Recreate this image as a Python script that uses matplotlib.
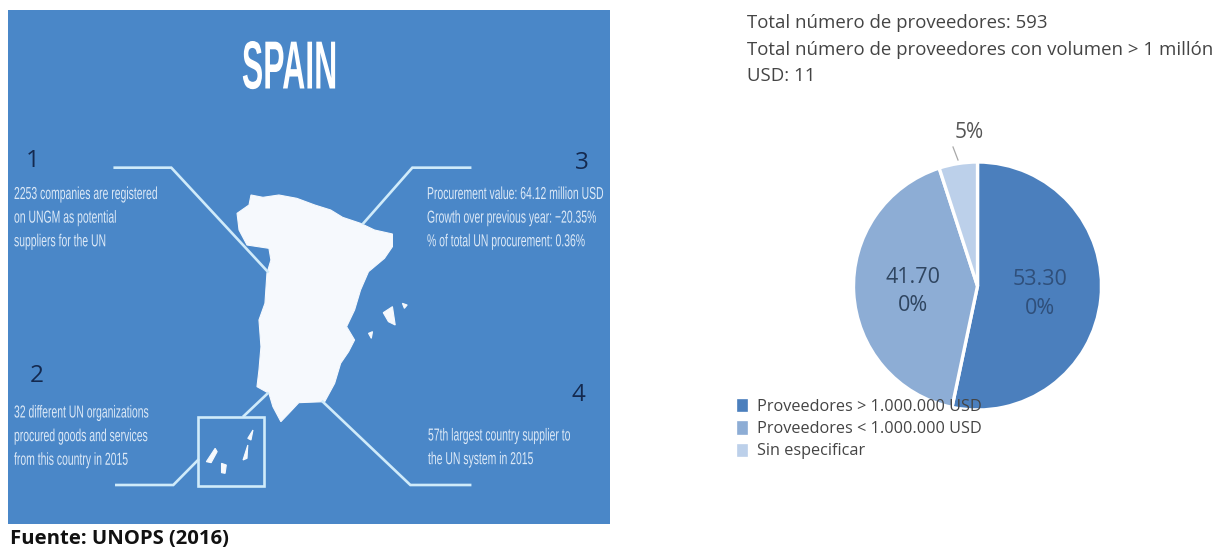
import matplotlib
matplotlib.use("Agg")
import matplotlib.pyplot as plt
from matplotlib.patches import Polygon, Rectangle
from matplotlib.patheffects import AbstractPathEffect
from matplotlib.transforms import Affine2D

# ---- chart data ----
categories = ["Proveedores > 1.000.000 USD", "Proveedores < 1.000.000 USD", "Sin especificar"]
shares = [53.30, 41.70, 5.0]
share_labels = ["53.30\n0%", "41.70\n0%", "5%"]
pie_colors = ["#4b7fbd", "#8dadd5", "#bcd0ea"]
header_lines = ["Total número de proveedores: 593",
                "Total número de proveedores con volumen > 1 millón",
                "USD: 11"]
source = "Fuente: UNOPS (2016)"

# ---- infographic text ----
panel_title = "SPAIN"
panel_blocks = ["2253 companies are registered\non UNGM as potential\nsuppliers for the UN",
                "32 different UN organizations\nprocured goods and services\nfrom this country in 2015",
                "Procurement value: 64.12 million USD\nGrowth over previous year: −20.35%\n% of total UN procurement: 0.36%",
                "57th largest country supplier to\nthe UN system in 2015"]
panel_numbers = ["1", "2", "3", "4"]

W, H = 1225, 549
fig = plt.figure(figsize=(W / 100, H / 100), dpi=100, facecolor="white")
bg = fig.add_axes([0, 0, 1, 1])
bg.set_xlim(0, W); bg.set_ylim(H, 0); bg.axis("off")

PANEL = "#4a87c8"; LINE = "#d0ebfa"; NAVY = "#14294f"; MAP = "#f6f9fd"
SANS = ["Liberation Sans", "DejaVu Sans"]
UI = ["Open Sans", "DejaVu Sans"]


class Condense(AbstractPathEffect):
    """Squeeze a real text object horizontally about a pixel x position."""
    def __init__(self, x0, sx):
        super().__init__()
        self.x0, self.sx = x0, sx

    def draw_path(self, renderer, gc, tpath, affine, rgbFace=None):
        t = affine + Affine2D().translate(-self.x0, 0).scale(self.sx, 1).translate(self.x0, 0)
        renderer.draw_path(gc, tpath, t, rgbFace)


bg.add_patch(Rectangle((8, 10), 602, 513.5, fc=PANEL, ec="none"))


# illustration outline, in zoomed-crop coordinates of the reference
def Z(pts):
    return [(x / 2.51, 130 + y / 3) for x, y in pts]


main = [(630,195),(660,202),(700,195),(745,205),(790,225),(830,240),(860,262),(905,280),(940,300),
        (985,312),(985,350),(965,385),(925,425),(905,480),(890,540),(870,590),(890,630),(875,665),
        (855,700),(840,760),(815,815),(750,818),(725,850),(705,875),(685,830),(675,790),(645,770),
        (650,720),(655,650),(650,570),(665,520),(670,430),(680,390),(675,355),(620,345),(600,300),
        (595,250),(625,225)]
bg.add_patch(Polygon(Z(main), fc=MAP, ec=MAP, lw=0.8))
for isl in ([(962,548),(985,530),(992,585),(975,575)], [(1010,520),(1022,525),(1015,535)],
            [(925,610),(935,605),(932,625)],
            [(518,995),(540,955),(545,965),(530,998)], [(556,1000),(568,1005),(565,1030),(556,1028)],
            [(622,925),(635,900),(630,930)], [(610,990),(622,945),(620,985)]):
    bg.add_patch(Polygon(Z(isl), fc=MAP, ec=MAP, lw=0.8))

for path in ([(288,113),(430,113),(672,425)], [(1180,113),(1035,113),(912,280)],
             [(292,1065),(435,1065),(497,990)], [(612,858),(672,790)],
             [(1180,1065),(1030,1065),(810,815)]):
    xs, ys = zip(*Z(path))
    bg.plot(xs, ys, color=LINE, lw=1.9, solid_joinstyle="miter")
bx, by = Z([(497,860)])[0]; bx2, by2 = Z([(662,1068)])[0]
bg.add_patch(Rectangle((bx, by), bx2 - bx, by2 - by, fc="none", ec=LINE, lw=1.9))

bg.text(289.5, 70.5, panel_title, color="white", family=SANS, weight="bold", fontsize=49,
        ha="center", va="center", path_effects=[Condense(289.5, 0.47)])

block_xy = [(14, 187), (14, 405.5), (427, 187), (428, 428.5)]
for (x, y), t in zip(block_xy, panel_blocks):
    bg.text(x, y, t, color="#dce9f7", family=SANS, fontsize=12.5, ha="left", va="top",
            linespacing=1.72, path_effects=[Condense(x, 0.6)])
number_xy = [(33, 161), (37, 376), (582, 163), (578, 395)]
for (x, y), t in zip(number_xy, panel_numbers):
    bg.text(x, y, t, color=NAVY, family=UI, fontsize=17.5, ha="center", va="center")

bg.text(9.5, 539, source, color="#111111", family=UI, weight="bold", fontsize=14.6, ha="left", va="center")

for y, t in zip([23, 50, 76], header_lines):
    bg.text(747, y, t, color="#444444", family=UI, fontsize=13.4, ha="left", va="center")

# pie
cx, cy, r = 977.5, 286, 124
pie_ax = fig.add_axes([(cx - r) / W, 1 - (cy + r) / H, 2 * r / W, 2 * r / H])
wedges, _ = pie_ax.pie(shares, colors=pie_colors, startangle=90, counterclock=False, radius=1,
                       wedgeprops=dict(edgecolor="white", linewidth=2.4))
pie_ax.set_xlim(-1, 1); pie_ax.set_ylim(-1, 1)
pie_ax.patch.set_alpha(0)

top = fig.add_axes([0, 0, 1, 1], facecolor="none")
top.set_xlim(0, W); top.set_ylim(H, 0); top.axis("off")
top.text(1040, 294, share_labels[0], color="#2f4f7a", family=UI, fontsize=15.5, ha="center", va="center", linespacing=1.45)
top.text(913, 291.5, share_labels[1], color="#2f4560", family=UI, fontsize=15.5, ha="center", va="center", linespacing=1.45)
top.text(969, 132, share_labels[2], color="#555555", family=UI, fontsize=15, ha="center", va="center")
top.plot([953, 958], [147, 160], color="#a8a8a8", lw=0.9)

top.legend(wedges, categories, loc="upper left", bbox_to_anchor=(735 / W, 1 - 397 / H),
           bbox_transform=fig.transFigure, frameon=False, handlelength=0.88, handleheight=1.15,
           handletextpad=0.5, labelspacing=0.3, borderpad=0, borderaxespad=0,
           prop=dict(family="Open Sans", size=11.7), labelcolor="#444444")

fig.savefig("out.png", dpi=100)
